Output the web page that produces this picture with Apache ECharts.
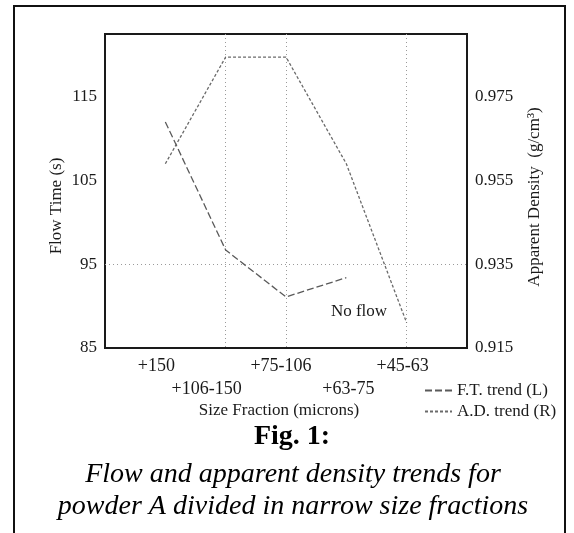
<!DOCTYPE html>
<html>
<head>
<meta charset="utf-8">
<script src="https://cdn.jsdelivr.net/npm/echarts@6/dist/echarts.min.js"></script>
<style>
  html, body { margin: 0; padding: 0; background: #fff; }
  #chart { width: 574px; height: 533px; }
</style>
</head>
<body>
<div id="chart"></div>
<script>
// size fractions (microns), left to right
const sizeFractions = ['+150', '+106-150', '+75-106', '+63-75', '+45-63'];
// flow time (s); the finest fraction did not flow
const flowTime = [112.0, 96.7, 91.1, 93.4, null];
// apparent density (g/cm3)
const apparentDensity = [0.959, 0.9845, 0.9845, 0.959, 0.921];
// fractions that carry a dotted vertical grid line
const gridFractions = ['+106-150', '+75-106', '+45-63'];
const flowGridValue = 95;

const FONT = 'Liberation Serif';
const INK = '#1a1a1a';

// one empty slot on each side, so the points sit inside the frame
const xCategories = ['', ...sizeFractions, ''];
const pad = arr => [null, ...arr, null];

// small horizontal nudges of the staggered tick labels (px)
const LABEL_NUDGE = [0, -9, -19, -5, 2, -4, 0];

const rich = {};
xCategories.forEach((_, i) => {
  const d = LABEL_NUDGE[i];
  rich['c' + i] = {
    fontFamily: FONT,
    fontSize: 18,
    color: INK,
    padding: [i % 2 === 0 ? 23 : 0, d < 0 ? -2 * d : 0, 0, d > 0 ? 2 * d : 0]
  };
});

const chart = echarts.init(document.getElementById('chart'));

chart.setOption({
  animation: false,
  grid: {
    left: 105,
    right: 107,
    top: 34,
    bottom: 185,
    show: true,
    borderColor: INK,
    borderWidth: 2
  },
  legend: {
    orient: 'vertical',
    left: 424,
    top: 382,
    padding: 0,
    itemWidth: 27,
    itemHeight: 12,
    itemGap: 4,
    itemStyle: { opacity: 0 },
    textStyle: { fontFamily: FONT, fontSize: 17, color: INK },
    data: ['F.T. trend (L)', 'A.D. trend (R)']
  },
  xAxis: {
    type: 'category',
    data: xCategories,
    boundaryGap: false,
    axisLine: { show: true, lineStyle: { color: INK, width: 2 } },
    axisTick: { show: false },
    axisLabel: {
      interval: 0,
      margin: 9,
      formatter: (v, i) => v ? '{c' + i + '|' + v + '}' : '',
      rich
    },
    splitLine: {
      show: true,
      interval: (i, v) => gridFractions.includes(v),
      lineStyle: { color: '#9a9a9a', type: [1, 3], width: 1 }
    }
  },
  yAxis: [
    {
      type: 'value',
      min: 85,
      max: 122.5,
      interval: 10,
      axisLine: { show: true, lineStyle: { color: INK, width: 2 } },
      axisTick: { show: false },
      splitLine: { show: false },
      axisLabel: {
        showMaxLabel: false,
        margin: 8,
        fontFamily: FONT,
        fontSize: 17,
        color: INK
      }
    },
    {
      type: 'value',
      position: 'right',
      min: 0.915,
      max: 0.99,
      interval: 0.02,
      axisLine: { show: true, lineStyle: { color: INK, width: 2 } },
      axisTick: { show: false },
      splitLine: { show: false },
      axisLabel: {
        showMaxLabel: false,
        margin: 8,
        fontFamily: FONT,
        fontSize: 17,
        color: INK,
        formatter: v => v.toFixed(3)
      }
    }
  ],
  series: [
    {
      name: 'F.T. trend (L)',
      type: 'line',
      yAxisIndex: 0,
      data: pad(flowTime),
      symbol: 'none',
      connectNulls: false,
      lineStyle: { color: '#5a5a5a', width: 1.3, type: [7, 3] },
      itemStyle: { color: '#5a5a5a' },
      markLine: {
        silent: true,
        symbol: 'none',
        label: { show: false },
        lineStyle: { color: '#9a9a9a', type: [1, 3], width: 1 },
        data: [{ yAxis: flowGridValue }]
      }
    },
    {
      name: 'A.D. trend (R)',
      type: 'line',
      yAxisIndex: 1,
      data: pad(apparentDensity),
      symbol: 'none',
      lineStyle: { color: '#6a6a6a', width: 1.3, type: [3, 2] },
      itemStyle: { color: '#6a6a6a' }
    }
  ],
  graphic: [
    {
      type: 'rect',
      shape: { x: 14, y: 6, width: 551, height: 580 },
      style: { fill: 'none', stroke: '#111', lineWidth: 2 },
      silent: true
    },
    {
      type: 'text',
      x: 57, y: 206, rotation: Math.PI / 2,
      style: { text: 'Flow Time (s)', fontFamily: FONT, fontSize: 17, fill: INK, align: 'center', verticalAlign: 'middle' }
    },
    {
      type: 'text',
      x: 535, y: 197, rotation: Math.PI / 2,
      style: { text: 'Apparent Density  (g/cm³)', fontFamily: FONT, fontSize: 17, fill: INK, align: 'center', verticalAlign: 'middle' }
    },
    {
      type: 'text',
      x: 359, y: 312,
      style: { text: 'No flow', fontFamily: FONT, fontSize: 17, fill: INK, align: 'center', verticalAlign: 'middle' }
    },
    {
      type: 'text',
      x: 279, y: 411,
      style: { text: 'Size Fraction (microns)', fontFamily: FONT, fontSize: 17, fill: INK, align: 'center', verticalAlign: 'middle' }
    },
    {
      type: 'text',
      x: 292, y: 437,
      style: { text: 'Fig. 1:', fontFamily: FONT, fontSize: 28, fontWeight: 'bold', fill: '#000', align: 'center', verticalAlign: 'middle' }
    },
    {
      type: 'text',
      x: 293, y: 475,
      style: { text: 'Flow and apparent density trends for', fontFamily: FONT, fontSize: 28, fontStyle: 'italic', fill: '#000', align: 'center', verticalAlign: 'middle' }
    },
    {
      type: 'text',
      x: 293, y: 507,
      style: { text: 'powder A divided in narrow size fractions', fontFamily: FONT, fontSize: 28, fontStyle: 'italic', fill: '#000', align: 'center', verticalAlign: 'middle' }
    }
  ]
});
</script>
</body>
</html>
